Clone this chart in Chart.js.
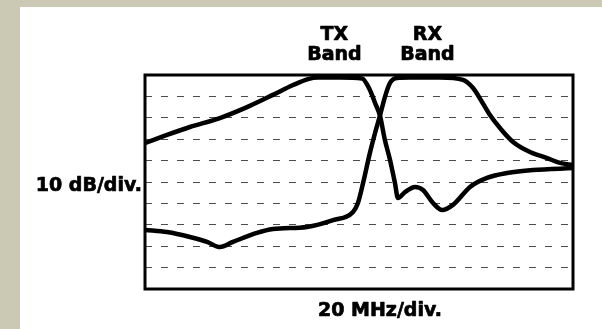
<!DOCTYPE html>
<html>
<head>
<meta charset="utf-8">
<script src="https://cdn.jsdelivr.net/npm/chart.js@4/dist/chart.umd.min.js"></script>
<style>
  html, body { margin: 0; padding: 0; background: #ffffff; }
  #wrap { width: 602px; height: 329px; position: relative; }
</style>
</head>
<body>
<div id="wrap"><canvas id="c" width="602" height="329"></canvas></div>
<script>
// Frequency in MHz (20 MHz/div, 10 divisions), response in dB (10 dB/div)
const txFreq = [0, 10.3, 21.0, 35.0, 47.7, 59.8, 69.2, 76.2, 80.8, 91.1, 101.4, 105.1, 107.5, 109.8, 112.1, 114.5, 116.8, 118.2, 121.5, 126.2, 129.9, 134.6, 138.8, 143.9, 151.9, 159.8, 169.2, 181.3, 200];
const txLoss = [-31.8, -28.0, -24.3, -20.1, -15.0, -9.3, -4.7, -1.9, -1.2, -1.2, -1.6, -7.0, -13.1, -19.0, -30.4, -39.7, -50.5, -57.5, -54.7, -52.3, -53.7, -59.8, -63.1, -60.7, -52.3, -48.1, -45.8, -44.4, -43.5];
const rxFreq = [0, 10.3, 21.0, 29.0, 35.0, 41.1, 52.3, 59.8, 75.7, 87.9, 97.2, 99.5, 101.9, 105.1, 107.5, 109.8, 112.1, 114.5, 117.8, 123.8, 137.9, 148.6, 153.3, 157.5, 161.2, 165.9, 172.0, 179.9, 187.9, 193.9, 200];
const rxLoss = [-72.4, -73.4, -75.7, -78.0, -80.4, -78.0, -73.8, -72.0, -71.0, -67.8, -64.0, -59.8, -50.5, -36.4, -27.1, -19.0, -10.3, -3.7, -1.4, -1.2, -1.2, -2.3, -6.1, -12.6, -18.7, -24.8, -31.3, -36.0, -38.8, -41.1, -42.1];
const bandLabels = [
  { lines: ['TX', 'Band'], freq: 88.5 },
  { lines: ['RX', 'Band'], freq: 132.0 }
];
const yAxisLabel = '10 dB/div.';
const xAxisLabel = '20 MHz/div.';

const toPts = (xs, ys) => xs.map((x, i) => ({ x: x, y: ys[i] }));

const FONT = 'bold 19px "DejaVu Sans", sans-serif';

function heavyText(ctx, s, x, y) {
  ctx.strokeText(s, x, y);
  ctx.fillText(s, x, y);
}

const decor = {
  id: 'decor',
  beforeDraw(chart) {
    const ctx = chart.ctx;
    ctx.save();
    ctx.fillStyle = '#cbc9b4';
    ctx.fillRect(0, 0, chart.width, chart.height);
    ctx.fillStyle = '#ffffff';
    ctx.fillRect(20, 7, chart.width - 20, chart.height - 7);
    ctx.restore();
  },
  afterDraw(chart) {
    const ctx = chart.ctx;
    const a = chart.chartArea;
    const xs = chart.scales.x;
    ctx.save();
    ctx.strokeStyle = '#000';
    ctx.lineWidth = 3;
    ctx.strokeRect(a.left, a.top, a.right - a.left, a.bottom - a.top);
    ctx.fillStyle = '#000';
    ctx.lineWidth = 0.7;
    ctx.lineJoin = 'round';
    ctx.font = FONT;
    ctx.textBaseline = 'middle';
    ctx.textAlign = 'center';
    bandLabels.forEach(b => {
      const x = xs.getPixelForValue(b.freq);
      heavyText(ctx, b.lines[0], x, a.top - 40);
      heavyText(ctx, b.lines[1], x, a.top - 20);
    });
    heavyText(ctx, xAxisLabel, xs.getPixelForValue(100) + 21, a.bottom + 22);
    ctx.textAlign = 'right';
    heavyText(ctx, yAxisLabel, a.left - 3, chart.scales.y.getPixelForValue(-52));
    ctx.restore();
  }
};

new Chart(document.getElementById('c'), {
  type: 'line',
  data: {
    datasets: [
      { label: 'TX', data: toPts(txFreq, txLoss), borderColor: '#000', borderWidth: 4.5, pointRadius: 0, cubicInterpolationMode: 'monotone', fill: false },
      { label: 'RX', data: toPts(rxFreq, rxLoss), borderColor: '#000', borderWidth: 4.5, pointRadius: 0, cubicInterpolationMode: 'monotone', fill: false }
    ]
  },
  options: {
    responsive: false,
    animation: false,
    devicePixelRatio: 1,
    layout: { padding: { left: 145, right: 29, top: 75, bottom: 40 } },
    plugins: { legend: { display: false }, tooltip: { enabled: false }, title: { display: false } },
    scales: {
      x: {
        type: 'linear', min: 0, max: 200,
        ticks: { display: false, stepSize: 20 },
        grid: { display: false, drawTicks: false },
        border: { display: false }
      },
      y: {
        type: 'linear', min: -100, max: 0,
        ticks: { display: false, stepSize: 10 },
        grid: { color: 'rgba(0,0,0,0.7)', lineWidth: 1, drawTicks: false },
        border: { display: false, dash: [7, 9] }
      }
    }
  },
  plugins: [decor]
});
</script>
</body>
</html>
